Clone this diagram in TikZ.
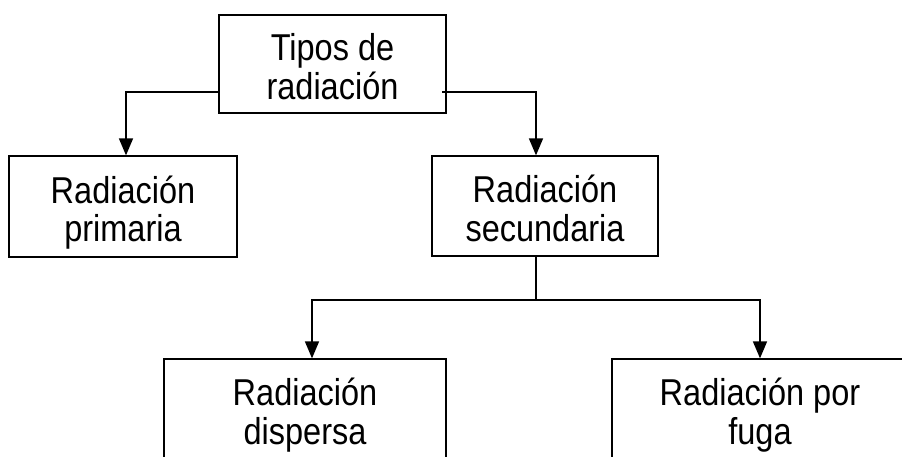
\documentclass[tikz,border=0pt]{standalone}
\usepackage{fontspec}
\setmainfont{Liberation Sans}
\usetikzlibrary{arrows.meta}
\newcommand{\stretchtext}[1]{\scalebox{1}[1.15]{\fontsize{32.5}{33}\selectfont\begin{tabular}{@{}c@{}}#1\end{tabular}}}
\begin{document}
\begin{tikzpicture}[x=1pt,y=1pt,
  box/.style={draw=black,line width=1.3pt,inner sep=0pt},
  txt/.style={inner sep=0pt,yshift=-7.75pt},
  conn/.style={draw=black,line width=1.6pt},
  arr/.style={conn,-{Triangle[length=17pt,width=14pt]}}]
\useasboundingbox (0,0) rectangle (902,-457);
\clip (0,0) rectangle (902,-457);
\node[box,minimum width=227pt,minimum height=98pt] (top) at (332.5,-64) {};
\node[box,minimum width=228pt,minimum height=101pt] (prim) at (123,-206.5) {};
\node[box,minimum width=226pt,minimum height=100pt] (sec) at (545,-206) {};
\node[box,minimum width=282pt,minimum height=100pt] (disp) at (305,-409) {};
\node[box,minimum width=296pt,minimum height=100pt] (fuga) at (760,-409) {};
\node[txt] (toptxt) at (top.center) {\stretchtext{Tipos de\\radiación}};
\node[txt] (primtxt) at (prim.center) {\stretchtext{Radiación\\primaria}};
\node[txt] (sectxt) at (sec.center) {\stretchtext{Radiación\\secundaria}};
\node[txt] (disptxt) at (disp.center) {\stretchtext{Radiación\\dispersa}};
\node[txt] (fugatxt) at (fuga.center) {\stretchtext{Radiación por\\fuga}};
\coordinate (lft) at (219,-92);
\coordinate (rgt) at (442,-92);
\coordinate (mid) at (536,-300);
\draw[arr] (lft) -| ([xshift=3pt]prim.north);
\draw[arr] (rgt) -| ([xshift=-9pt]sec.north);
\draw[conn] ([xshift=-9pt]sec.south) -- (mid);
\draw[arr] (mid) -| ([xshift=7pt]disp.north);
\draw[arr] (mid) -| (fuga.north);
\end{tikzpicture}
\end{document}
